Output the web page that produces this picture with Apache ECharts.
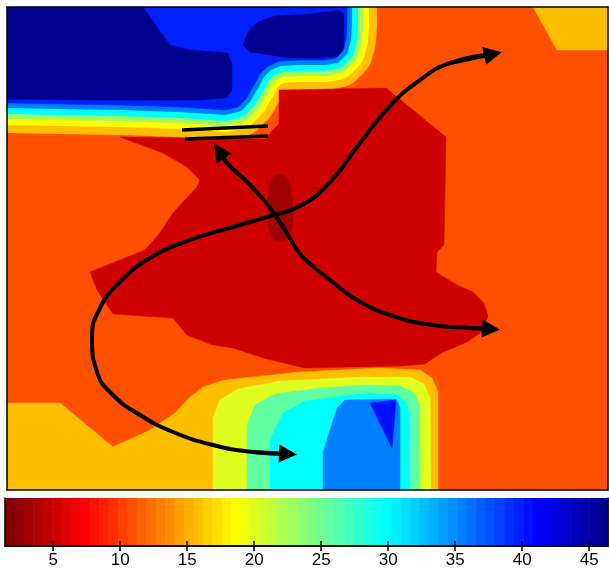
<!DOCTYPE html>
<html>
<head>
<meta charset="utf-8">
<title>Field map</title>
<script src="https://cdn.jsdelivr.net/npm/echarts@6/dist/echarts.min.js"></script>
<style>
  html, body { margin: 0; padding: 0; background: #ffffff; }
  #chart { width: 609px; height: 570px; }
</style>
</head>
<body>
<div id="chart"></div>
<script>
// colour bar limits and labelled ticks
var colorLimits = [1.4, 46.4];
var colorTicks = [5, 10, 15, 20, 25, 30, 35, 40, 45];

// levels of the field, read against the colour bar
var levelDeep = 3.1,
  levelRed = 5.3,
  levelOrange = 10.9,
  levelAmber = 15.8,
  levelYellow = 20,
  levelMint = 25.6,
  levelCyan = 29.8,
  levelSky = 35.5,
  levelBlue = 39.8,
  levelBlueCore = 40.5,
  levelNavy = 46;

// contour levels stepping out of the blue zone (outermost first)
var bandLevels = [15.8, 18.6, 23, 29.8, 35.5];

// shapes, in plot coordinates (x right, y down)
var plotBox = [[7, 7], [608, 7], [608, 490], [7, 490]];
var cornerTopRight = [[533, 7], [557, 50], [608, 50], [608, 7]];
var blueEdge = [[7, 103], [60, 104], [120, 105], [180, 107], [225, 110], [238, 107], [246, 99], [253, 87],
  [260, 74], [268, 66], [280, 61], [300, 60], [325, 60], [336, 58], [343, 51], [346, 40], [347, 25], [347, 7]];
var navyLeft = [[7, 7], [143, 7], [157, 27], [170, 45], [190, 50], [228, 53], [232, 65], [232, 90],
  [226, 98], [200, 100], [100, 100], [7, 99]];
var navyBlob = [[243, 45], [248, 32], [258, 22], [275, 16], [310, 14], [338, 10], [344, 14], [344, 48],
  [338, 56], [320, 58], [290, 58], [270, 55], [250, 52]];
var redZone = [[120, 137], [265, 139], [272, 131], [279, 124], [279, 90], [386, 88], [446, 137], [444, 245],
  [437, 252], [436, 272], [457, 285], [473, 292], [484, 303], [488, 316], [483, 331], [467, 342], [443, 352],
  [432, 359], [425, 364], [400, 366], [305, 368], [267, 359], [233, 348], [213, 345], [187, 335], [173, 318],
  [113, 314], [97, 290], [90, 272], [145, 250], [160, 233], [173, 213], [197, 187], [200, 180], [187, 167], [163, 153]];
var deepSpot = [[279, 174], [287, 178], [291, 190], [293, 215], [291, 232], [284, 240], [276, 240],
  [270, 232], [268, 210], [269, 188], [273, 178]];
var basinAmber = [[7, 403], [60, 403], [113, 447], [150, 430], [175, 413], [190, 397], [203, 387], [225, 380],
  [300, 372], [380, 368], [420, 370], [432, 378], [438, 392], [438, 490], [7, 490]];
var basinYellow = [[213, 490], [213, 418], [220, 400], [238, 389], [280, 381], [367, 377], [410, 377],
  [424, 384], [430, 398], [431, 490]];
var basinMint = [[247, 490], [247, 425], [255, 405], [275, 394], [320, 388], [367, 385], [400, 386],
  [413, 392], [420, 405], [420, 490]];
var basinCyan = [[270, 490], [270, 440], [283, 413], [305, 401], [367, 393], [395, 394], [406, 402],
  [410, 415], [410, 490]];
var basinSky = [[323, 490], [323, 452], [337, 408], [345, 400], [396, 399], [400, 408], [400, 490]];
var basinCore = [[370, 403], [396, 400], [392, 448]];

// the two double-headed paths and the short double bar
var arrow1Path = [[288, 454], [253, 452], [213, 445], [173, 432], [140, 415], [113, 395], [97, 372], [92, 338],
  [100, 308], [120, 282], [150, 258], [190, 240], [233, 227], [270, 216], [300, 206], [330, 182], [360, 143],
  [390, 106], [420, 80], [450, 63], [493, 54]];
var arrow2Path = [[219, 151], [227, 163], [245, 180], [262, 198], [275, 215], [288, 235], [300, 254], [315, 268],
  [330, 280], [357, 300], [393, 316], [433, 325], [470, 328], [491, 329]];
var barLines = [[[182, 130], [268, 126]], [[185, 139], [268, 136]]];

// flipped jet(64), as the colour bar shows it
function ramp(i) {
  if (i < 1 || i > 47) return 0;
  if (i <= 16) return i / 16;
  if (i <= 31) return 1;
  return (48 - i) / 16;
}
function jetRow(j) {
  var r = ramp(j - 24), g = ramp(j - 8), b = ramp(j + 8);
  return "rgb(" + Math.round(r * 255) + "," + Math.round(g * 255) + "," + Math.round(b * 255) + ")";
}
function levelColor(v) {
  var k = Math.floor((v - colorLimits[0]) / (colorLimits[1] - colorLimits[0]) * 64);
  k = Math.max(0, Math.min(63, k));
  return jetRow(64 - k);
}

// draw order of the field (later on top); bands are wide strokes along blueEdge
var bandReach = [30, 22, 16, 11, 5];
var fieldLayers = [
  { kind: "fill", level: levelOrange, points: plotBox },
  { kind: "fill", level: levelAmber, points: cornerTopRight },
  { kind: "fill", level: levelAmber, points: basinAmber },
  { kind: "fill", level: levelYellow, points: basinYellow },
  { kind: "fill", level: levelMint, points: basinMint },
  { kind: "fill", level: levelCyan, points: basinCyan },
  { kind: "fill", level: levelSky, points: basinSky },
  { kind: "fill", level: levelBlueCore, points: basinCore },
];
bandLevels.forEach(function (lv, i) {
  fieldLayers.push({ kind: "band", level: lv, points: blueEdge, width: bandReach[i] * 2 });
});
fieldLayers.push({ kind: "fill", level: levelBlue, points: blueEdge.concat([[7, 7]]) });
fieldLayers.push({ kind: "fill", level: levelNavy, points: navyLeft });
fieldLayers.push({ kind: "fill", level: levelNavy, points: navyBlob });
fieldLayers.push({ kind: "fill", level: levelRed, points: redZone });
fieldLayers.push({ kind: "fill", level: levelDeep, points: deepSpot, smooth: 0.5 });

function renderField(params, api) {
  var layer = fieldLayers[params.dataIndex];
  var pts = layer.points.map(function (p) {
    return api.coord(p);
  });
  var color = levelColor(layer.level);
  if (layer.kind === "band") {
    return {
      type: "polyline",
      z2: params.dataIndex,
      shape: { points: pts },
      style: { stroke: color, lineWidth: layer.width, fill: null, lineJoin: "round", lineCap: "butt" },
    };
  }
  return {
    type: "polygon",
    z2: params.dataIndex,
    shape: { points: pts, smooth: layer.smooth || 0 },
    style: { fill: color, stroke: color, lineWidth: 0.5 },
  };
}

var stripes = [];
for (var s = 0; s < 64; s++) stripes.push([s]);
function renderStripe(params, api) {
  var i = api.value(0);
  var step = (colorLimits[1] - colorLimits[0]) / 64;
  var p0 = api.coord([colorLimits[0] + i * step, 1]);
  var p1 = api.coord([colorLimits[0] + (i + 1) * step, 0]);
  return {
    type: "rect",
    shape: { x: p0[0], y: p0[1], width: p1[0] - p0[0] + 0.6, height: p1[1] - p0[1] },
    style: { fill: jetRow(64 - i) },
  };
}

var heads = [];
[arrow1Path, arrow2Path].forEach(function (path) {
  var n = path.length;
  heads.push({ coords: [path[1], path[0]] });
  heads.push({ coords: [path[n - 2], path[n - 1]] });
});

var frameAxis = {
  axisLine: { show: true, lineStyle: { color: "#000", width: 1.5 } },
  axisTick: { show: false },
  axisLabel: { show: false },
  splitLine: { show: false },
  z: 10,
};
function frame(extra) {
  return Object.assign({}, frameAxis, extra);
}

var chart = echarts.init(document.getElementById("chart"), null, { renderer: "canvas" });
var option = {
  animation: false,
  backgroundColor: "#ffffff",
  textStyle: { fontFamily: "Liberation Sans, Arial, sans-serif" },
  grid: [
    { left: 7, top: 7, width: 601, height: 483 },
    { left: 5, top: 498, width: 603, height: 48 },
  ],
  xAxis: [
    frame({ type: "value", gridIndex: 0, min: 7, max: 608, position: "bottom" }),
    frame({ type: "value", gridIndex: 0, min: 7, max: 608, position: "top" }),
    {
      type: "value",
      gridIndex: 1,
      min: colorLimits[0],
      max: colorLimits[1],
      position: "bottom",
      z: 10,
      axisLine: { show: true, lineStyle: { color: "#000", width: 1.5 } },
      axisTick: { show: true, inside: true, length: 5, customValues: colorTicks, lineStyle: { color: "#000", width: 1.5 } },
      axisLabel: { show: true, customValues: colorTicks, color: "#000", fontSize: 17, margin: 6 },
      splitLine: { show: false },
    },
    {
      type: "value",
      gridIndex: 1,
      min: colorLimits[0],
      max: colorLimits[1],
      position: "top",
      z: 10,
      axisLine: { show: true, lineStyle: { color: "#000", width: 1.5 } },
      axisTick: { show: true, inside: true, length: 5, customValues: colorTicks, lineStyle: { color: "#000", width: 1.5 } },
      axisLabel: { show: false },
      splitLine: { show: false },
    },
  ],
  yAxis: [
    frame({ type: "value", gridIndex: 0, min: 7, max: 490, inverse: true, position: "left" }),
    frame({ type: "value", gridIndex: 0, min: 7, max: 490, inverse: true, position: "right" }),
    frame({ type: "value", gridIndex: 1, min: 0, max: 1, position: "left" }),
    frame({ type: "value", gridIndex: 1, min: 0, max: 1, position: "right" }),
  ],
  series: [
    {
      type: "custom",
      name: "field",
      xAxisIndex: 0,
      yAxisIndex: 0,
      clip: true,
      silent: true,
      renderItem: renderField,
      data: fieldLayers.map(function (l, i) {
        return [i];
      }),
    },
    {
      type: "line",
      xAxisIndex: 0,
      yAxisIndex: 0,
      smooth: 0.5,
      showSymbol: false,
      silent: true,
      lineStyle: { color: "#000", width: 4 },
      data: arrow1Path,
      z: 5,
    },
    {
      type: "line",
      xAxisIndex: 0,
      yAxisIndex: 0,
      smooth: 0.5,
      showSymbol: false,
      silent: true,
      lineStyle: { color: "#000", width: 4 },
      data: arrow2Path,
      z: 5,
    },
    {
      type: "lines",
      coordinateSystem: "cartesian2d",
      xAxisIndex: 0,
      yAxisIndex: 0,
      symbol: ["none", "triangle"],
      symbolSize: 18,
      silent: true,
      lineStyle: { color: "#000", width: 4, opacity: 1, curveness: 0 },
      data: heads,
      z: 6,
    },
    {
      type: "lines",
      coordinateSystem: "cartesian2d",
      xAxisIndex: 0,
      yAxisIndex: 0,
      symbol: "none",
      silent: true,
      lineStyle: { color: "#000", width: 3.5, opacity: 1, curveness: 0 },
      data: barLines.map(function (c) {
        return { coords: c };
      }),
      z: 6,
    },
    {
      type: "custom",
      name: "colorbar",
      xAxisIndex: 2,
      yAxisIndex: 2,
      silent: true,
      renderItem: renderStripe,
      data: stripes,
    },
  ],
};
chart.setOption(option);
</script>
</body>
</html>
